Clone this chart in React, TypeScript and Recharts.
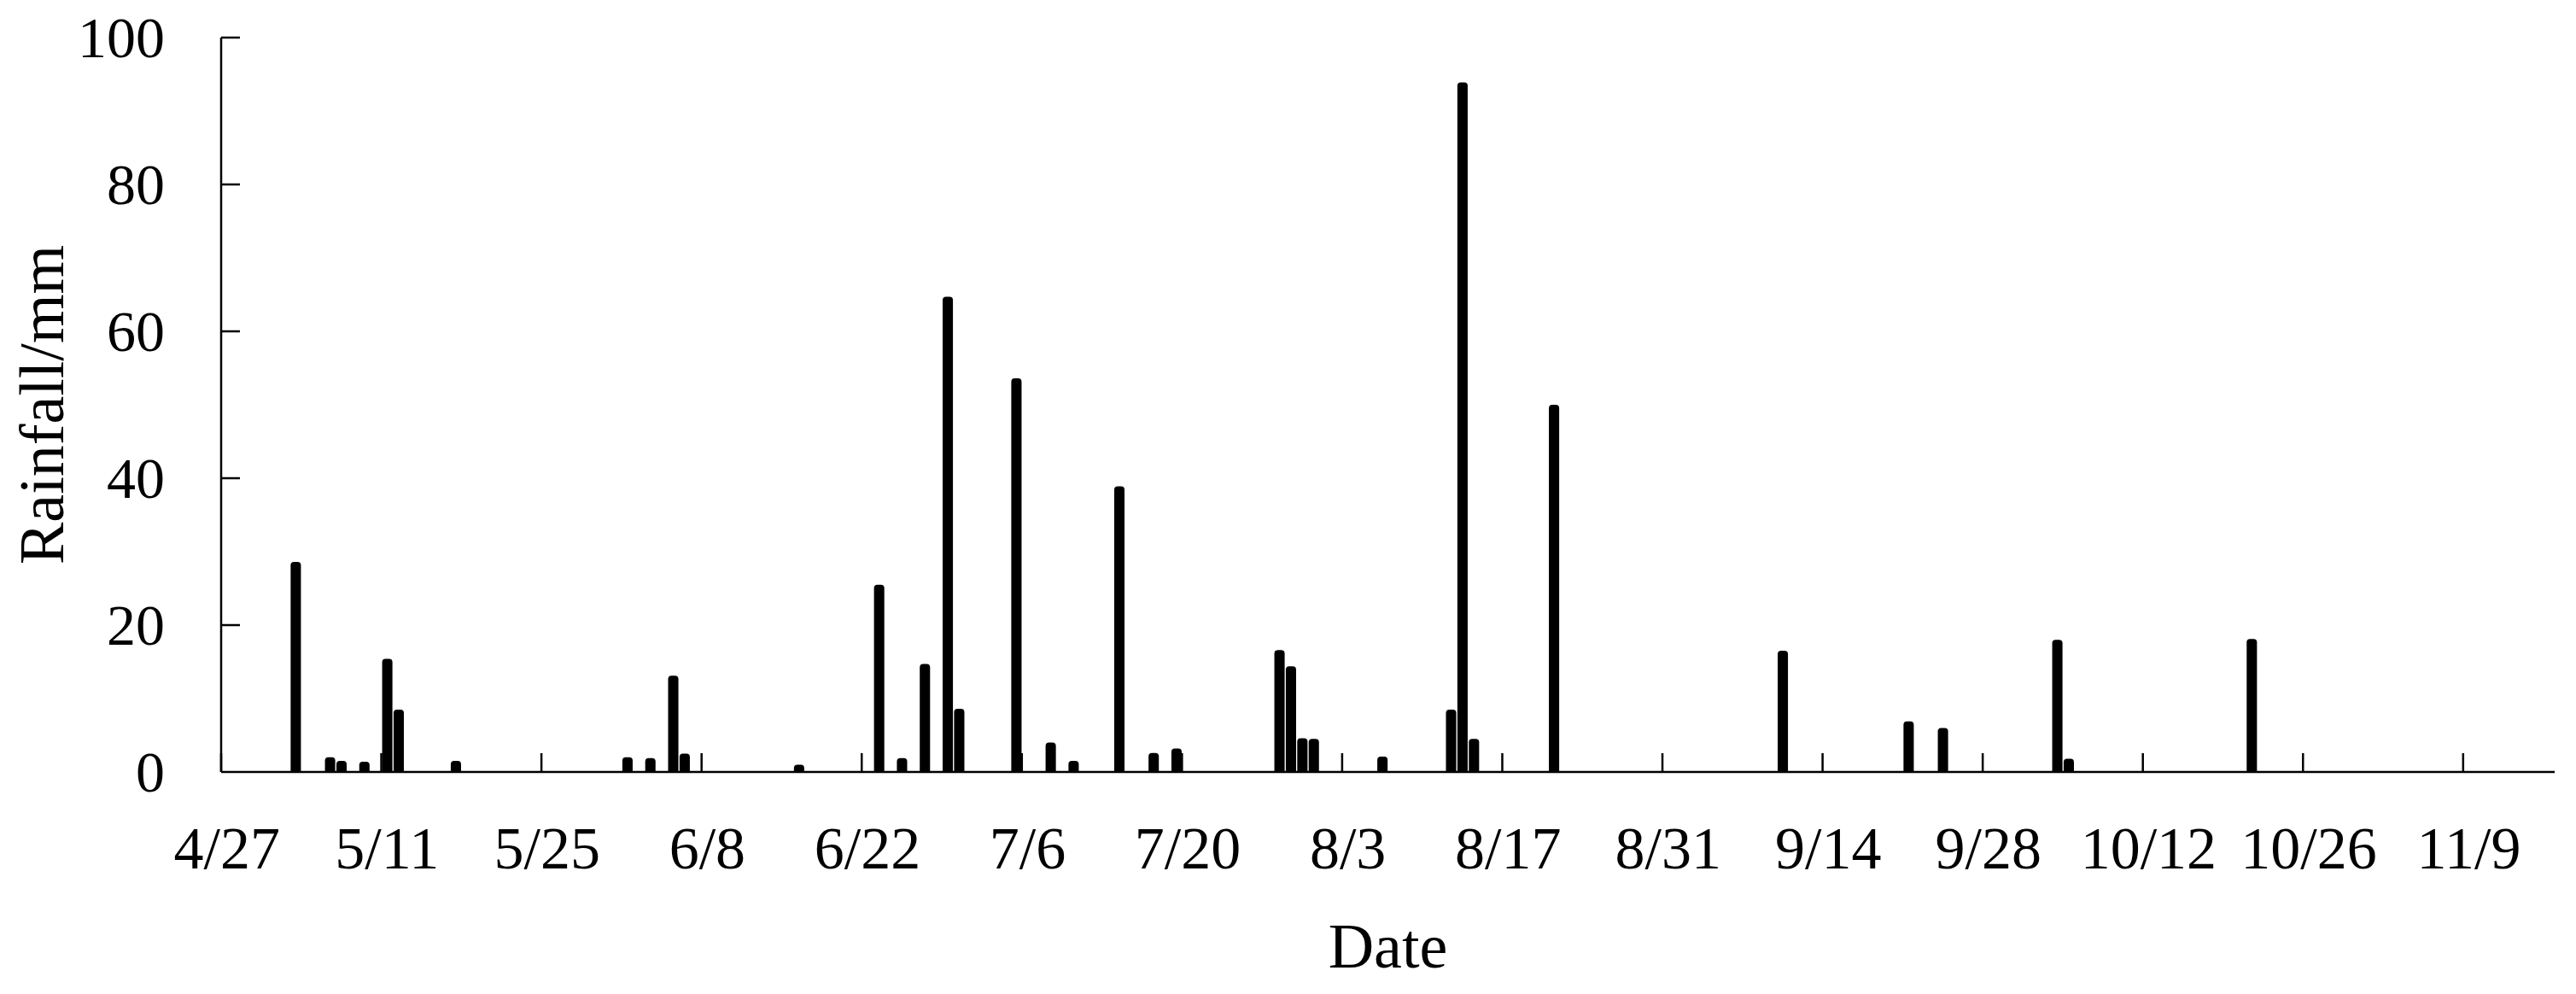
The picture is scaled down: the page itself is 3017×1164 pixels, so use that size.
import { BarChart, Bar, XAxis, YAxis } from "recharts";

// daily rainfall, 4/27 .. 11/16
const FIRST_DAY = new Date(2021, 3, 27);
const DAY_COUNT = 204;

const rainDates = [
  "5/3", "5/6", "5/7", "5/9", "5/11", "5/12", "5/17",
  "6/1", "6/3", "6/5", "6/6", "6/16", "6/23", "6/25", "6/27", "6/29", "6/30",
  "7/5", "7/8", "7/10", "7/14", "7/17", "7/19", "7/28", "7/29", "7/30", "7/31",
  "8/6", "8/12", "8/13", "8/14", "8/21",
  "9/10", "9/21", "9/24", "10/4", "10/5", "10/21",
];
const rainMm = [
  28.6, 2.0, 1.5, 1.4, 15.4, 8.5, 1.5,
  2.0, 1.9, 13.1, 2.5, 1.0, 25.5, 1.9, 14.7, 64.7, 8.6,
  53.6, 4.0, 1.5, 38.9, 2.6, 3.2, 16.6, 14.4, 4.6, 4.5,
  2.1, 8.5, 93.9, 4.5, 50.0,
  16.5, 6.9, 6.0, 18.0, 1.8, 18.1,
];
const yTicks = [0, 20, 40, 60, 80, 100];

const CHART_W = 3000;
const CHART_H = 1148;
const MARGIN = { top: 44, right: 16, bottom: 15, left: 0 };
const Y_AXIS_W = 251;
const X_AXIS_H = 229;
const BAND = (CHART_W - MARGIN.right - MARGIN.left - Y_AXIS_W) / DAY_COUNT;
const FONT = '"Liberation Serif", "Times New Roman", serif';

function buildDays() {
  const out: string[] = [];
  const d = new Date(FIRST_DAY);
  for (let i = 0; i < DAY_COUNT; i++) {
    out.push(`${d.getMonth() + 1}/${d.getDate()}`);
    d.setDate(d.getDate() + 1);
  }
  return out;
}

function buildData() {
  const byDate: Record<string, number> = {};
  rainDates.forEach((d, i) => {
    byDate[d] = rainMm[i];
  });
  return buildDays().map((date) => ({ date, rain: byDate[date] ?? 0 }));
}

function DateTick(props: any) {
  const { x, y, payload } = props;
  const edge = x - BAND / 2;
  return (
    <g>
      <line x1={edge} x2={edge} y1={y} y2={y - 22} stroke="#000" strokeWidth={2.5} />
      <text x={x} y={y + 113} textAnchor="middle" fontSize={70} fill="#000" fontFamily={FONT}>
        {payload.value}
      </text>
    </g>
  );
}

function RainTick(props: any) {
  const { x, y, payload } = props;
  return (
    <g>
      {payload.value !== 0 && (
        <line x1={x + 66} x2={x + 88} y1={y} y2={y} stroke="#000" strokeWidth={2.5} />
      )}
      <text x={x} y={y} dy="0.34em" textAnchor="end" fontSize={68} fill="#000" fontFamily={FONT}>
        {payload.value}
      </text>
    </g>
  );
}

function YTitle(props: any) {
  const vb = props.viewBox;
  const cy = vb.y + vb.height / 2;
  return (
    <text
      transform={`translate(${vb.x + 66}, ${cy}) rotate(-90)`}
      textAnchor="middle"
      fontSize={74}
      fill="#000"
      fontFamily={FONT}
    >
      Rainfall/mm
    </text>
  );
}

export default function App() {
  const data = buildData();
  return (
    <div
      style={{
        width: CHART_W,
        height: CHART_H,
        marginTop: -8,
        fontFamily: FONT,
        background: "#fff",
      }}
    >
      <BarChart width={CHART_W} height={CHART_H} data={data} margin={MARGIN}>
        <XAxis
          dataKey="date"
          interval={13}
          height={X_AXIS_H}
          tickSize={0}
          tickMargin={0}
          tickLine={false}
          axisLine={{ stroke: "#000", strokeWidth: 2.5 }}
          tick={<DateTick />}
          label={{ value: "Date", position: "insideBottom", offset: 0, fontSize: 74, fill: "#000", fontFamily: FONT }}
        />
        <YAxis
          width={Y_AXIS_W}
          domain={[0, 100]}
          ticks={yTicks}
          tickSize={0}
          tickMargin={66}
          tickLine={false}
          axisLine={{ stroke: "#000", strokeWidth: 2.5 }}
          tick={<RainTick />}
          label={<YTitle />}
        />
        <Bar
          dataKey="rain"
          fill="#000"
          barSize={14}
          radius={[4, 4, 0, 0]}
          isAnimationActive={false}
        />
      </BarChart>
    </div>
  );
}
